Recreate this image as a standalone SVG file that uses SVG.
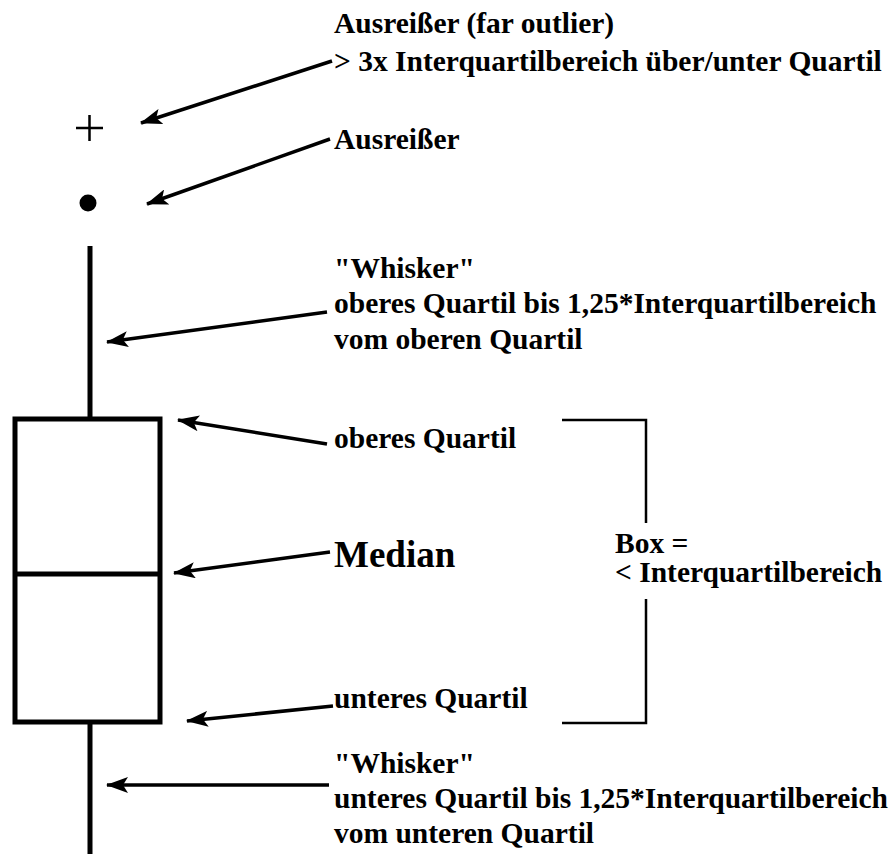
<svg xmlns="http://www.w3.org/2000/svg" width="894" height="854" viewBox="0 0 894 854">
<style>
.t{font-family:"Liberation Serif","Times New Roman",serif;font-weight:bold;font-size:29.5px;fill:#000}
.big{font-size:37px}
.c{stroke:#000;stroke-width:3.5;fill:none}
.s{stroke:#000;stroke-width:5;fill:none}
.b{stroke:#000;stroke-width:2.5;fill:none}
</style>
<defs>
<marker id="ah" markerUnits="userSpaceOnUse" markerWidth="22" markerHeight="16" viewBox="0 0 22 16" refX="21" refY="8" orient="auto">
<path d="M22,8 L0,0 L5,8 L0,16 Z" fill="#000"/>
</marker>
</defs>
<rect width="894" height="854" fill="#fff"/>
<g id="boxplot">
<line class="s" x1="90" y1="246" x2="90" y2="419"/>
<rect class="s" x="15" y="419" width="145" height="303"/>
<line class="s" x1="15" y1="574" x2="160" y2="574"/>
<line class="s" x1="90" y1="722" x2="90" y2="854"/>
</g>
<g id="far-outlier">
<path d="M76,128 H103 M89.5,115 V141" stroke="#000" stroke-width="2.5"/>
</g>
<g id="outlier">
<circle cx="88" cy="203" r="8.5" fill="#000"/>
</g>
<g id="bracket">
<path class="b" d="M562,420 H646 V523 M646,599 V723 H562"/>
</g>
<g id="labels">
<text class="t" x="334" y="33">Ausreißer (far outlier)</text>
<text class="t" x="334" y="71">&gt; 3x Interquartilbereich über/unter Quartil</text>
<text class="t" x="334" y="149">Ausreißer</text>
<text class="t" x="334" y="278">"Whisker"</text>
<text class="t" x="334" y="313">oberes Quartil bis 1,25*Interquartilbereich</text>
<text class="t" x="334" y="349">vom oberen Quartil</text>
<text class="t" x="334" y="448">oberes Quartil</text>
<text class="t big" x="334" y="567">Median</text>
<text class="t" x="615" y="553">Box =</text>
<text class="t" x="615" y="582">&lt; Interquartilbereich</text>
<text class="t" x="334" y="708">unteres Quartil</text>
<text class="t" x="334" y="773">"Whisker"</text>
<text class="t" x="334" y="808">unteres Quartil bis 1,25*Interquartilbereich</text>
<text class="t" x="334" y="843">vom unteren Quartil</text>
</g>
<g id="connectors">
<line class="c" x1="332" y1="61" x2="141" y2="123" marker-end="url(#ah)"/>
<line class="c" x1="330" y1="139" x2="147" y2="204" marker-end="url(#ah)"/>
<line class="c" x1="327" y1="312" x2="107" y2="342" marker-end="url(#ah)"/>
<line class="c" x1="327" y1="444" x2="178" y2="420" marker-end="url(#ah)"/>
<line class="c" x1="330" y1="552" x2="174" y2="573" marker-end="url(#ah)"/>
<line class="c" x1="333" y1="706" x2="187" y2="721" marker-end="url(#ah)"/>
<line class="c" x1="329" y1="785" x2="107" y2="785" marker-end="url(#ah)"/>
</g>
</svg>
